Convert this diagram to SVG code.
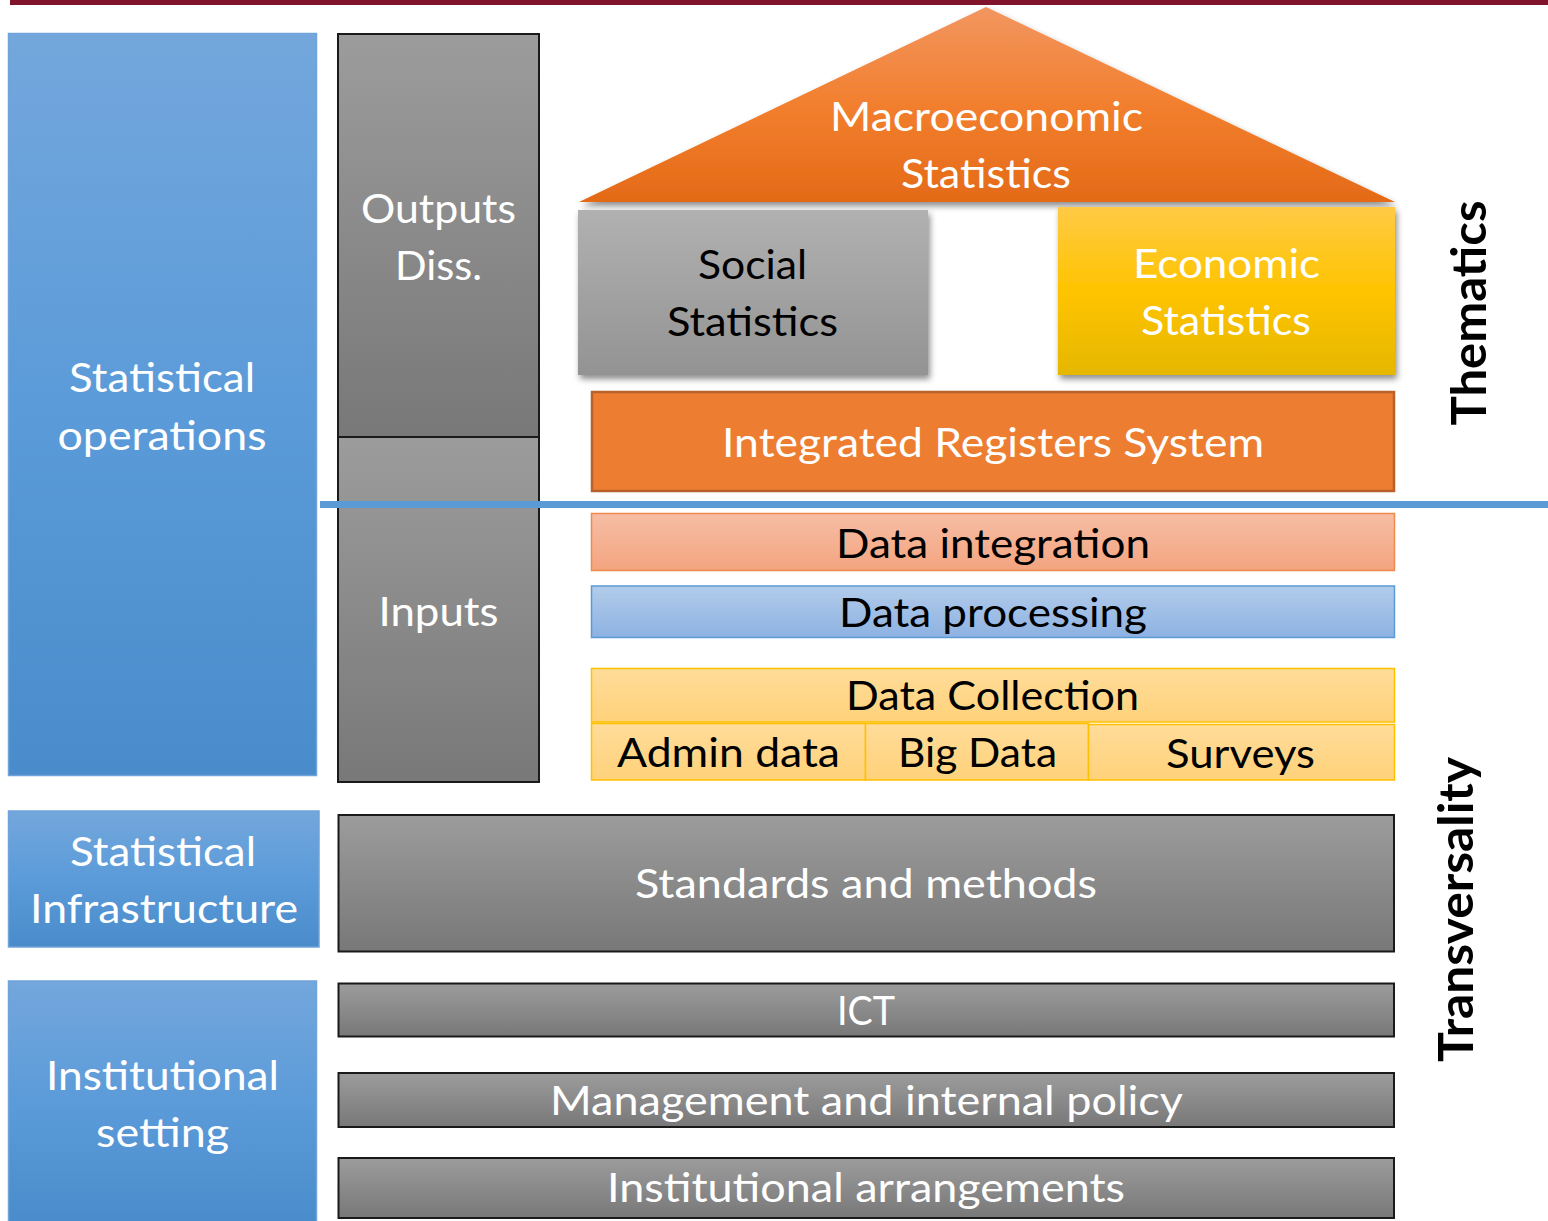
<svg xmlns="http://www.w3.org/2000/svg" width="1548" height="1221" viewBox="0 0 1548 1221">
<defs>
<linearGradient id="gBlue" x1="0" y1="0" x2="0" y2="1"><stop offset="0" stop-color="#73A7DC"/><stop offset="0.5" stop-color="#5B9BD9"/><stop offset="1" stop-color="#4A8BCB"/></linearGradient>
<linearGradient id="gGray" x1="0" y1="0" x2="0" y2="1"><stop offset="0" stop-color="#9C9C9C"/><stop offset="1" stop-color="#787878"/></linearGradient>
<linearGradient id="gSocial" x1="0" y1="0" x2="0" y2="1"><stop offset="0" stop-color="#B1B1B1"/><stop offset="1" stop-color="#939393"/></linearGradient>
<linearGradient id="gEcon" x1="0" y1="0" x2="0" y2="1"><stop offset="0" stop-color="#FFCA45"/><stop offset="0.5" stop-color="#FFC400"/><stop offset="1" stop-color="#E5B700"/></linearGradient>
<linearGradient id="gRoof" x1="0" y1="0" x2="0" y2="1"><stop offset="0" stop-color="#F29660"/><stop offset="0.5" stop-color="#F27F2E"/><stop offset="1" stop-color="#E46A17"/></linearGradient>
<linearGradient id="gInt" x1="0" y1="0" x2="0" y2="1"><stop offset="0" stop-color="#F6BEA5"/><stop offset="1" stop-color="#F4A47F"/></linearGradient>
<linearGradient id="gProc" x1="0" y1="0" x2="0" y2="1"><stop offset="0" stop-color="#B2CCEA"/><stop offset="1" stop-color="#8DB2E2"/></linearGradient>
<linearGradient id="gColl" x1="0" y1="0" x2="0" y2="1"><stop offset="0" stop-color="#FFDC9A"/><stop offset="1" stop-color="#FFD27A"/></linearGradient>
<filter id="shadow" x="-10%" y="-10%" width="125%" height="130%"><feDropShadow dx="2" dy="4" stdDeviation="3" flood-color="#000" flood-opacity="0.45"/></filter>
</defs>
<style>
text{font-family:Lato,"Open Sans","Liberation Sans",sans-serif;font-size:41px;text-anchor:middle;}
.w{fill:#FFFFFF;}
.k{fill:#000000;}
.b{font-weight:bold;font-size:48px;}
.blue{fill:url(#gBlue);stroke:#6FA3D9;stroke-width:1.5;}
.gray{fill:url(#gGray);stroke:#1A1A1A;stroke-width:2;}
</style>
<rect x="10" y="0" width="1538" height="5" fill="#80142C"/>

<g id="statistical-operations">
<rect class="blue" x="8.5" y="33.5" width="308" height="742"/>
<text class="w" x="162" y="392" textLength="186" lengthAdjust="spacingAndGlyphs">Statistical</text>
<text class="w" x="162" y="450" textLength="209" lengthAdjust="spacingAndGlyphs">operations</text>
</g>

<g id="outputs">
<rect class="gray" x="338" y="34" width="201" height="403"/>
<text class="w" x="438.5" y="223" textLength="155" lengthAdjust="spacingAndGlyphs">Outputs</text>
<text class="w" x="438.5" y="280" textLength="87" lengthAdjust="spacingAndGlyphs">Diss.</text>
</g>

<g id="inputs">
<rect class="gray" x="338" y="437" width="201" height="345"/>
<text class="w" x="438.5" y="626" textLength="120" lengthAdjust="spacingAndGlyphs">Inputs</text>
</g>

<g id="macroeconomic">
<polygon points="986,7 1395,202 579,202" fill="url(#gRoof)" filter="url(#shadow)"/>
<text class="w" x="986.5" y="131" textLength="313" lengthAdjust="spacingAndGlyphs">Macroeconomic</text>
<text class="w" x="986" y="188" textLength="170" lengthAdjust="spacingAndGlyphs">Statistics</text>
</g>

<g id="social">
<rect x="578" y="210" width="350" height="165" fill="url(#gSocial)" filter="url(#shadow)"/>
<text class="k" x="752.5" y="279" textLength="109" lengthAdjust="spacingAndGlyphs">Social</text>
<text class="k" x="752.5" y="336" textLength="171" lengthAdjust="spacingAndGlyphs">Statistics</text>
</g>

<g id="economic">
<rect x="1058" y="207" width="337" height="168" fill="url(#gEcon)" filter="url(#shadow)"/>
<text class="w" x="1226.5" y="278" textLength="187" lengthAdjust="spacingAndGlyphs">Economic</text>
<text class="w" x="1226" y="335" textLength="170" lengthAdjust="spacingAndGlyphs">Statistics</text>
</g>

<g id="registers">
<rect x="592" y="392" width="802" height="99" fill="#ED7D31" stroke="#B8612B" stroke-width="2.5"/>
<text class="w" x="993" y="457" textLength="542" lengthAdjust="spacingAndGlyphs">Integrated Registers System</text>
</g>

<g id="integration">
<rect x="591.5" y="513.5" width="803" height="57" fill="url(#gInt)" stroke="#F08A4B" stroke-width="1.5"/>
<text class="k" x="993" y="558" textLength="314" lengthAdjust="spacingAndGlyphs">Data integration</text>
</g>

<g id="processing">
<rect x="591.5" y="586" width="803" height="51.5" fill="url(#gProc)" stroke="#5B9BD5" stroke-width="1.5"/>
<text class="k" x="993" y="627" textLength="308" lengthAdjust="spacingAndGlyphs">Data processing</text>
</g>

<g id="collection">
<rect x="591.5" y="668.5" width="803" height="53.5" fill="url(#gColl)" stroke="#FFC000" stroke-width="1.5"/>
<text class="k" x="992.5" y="710" textLength="293" lengthAdjust="spacingAndGlyphs">Data Collection</text>
</g>

<g id="admin">
<rect x="591.5" y="723.5" width="274" height="56.5" fill="url(#gColl)" stroke="#FFC000" stroke-width="1.5"/>
<text class="k" x="728.5" y="767" textLength="223" lengthAdjust="spacingAndGlyphs">Admin data</text>
</g>

<g id="bigdata">
<rect x="865.5" y="723.5" width="223" height="56.5" fill="url(#gColl)" stroke="#FFC000" stroke-width="1.5"/>
<text class="k" x="977.5" y="767" textLength="159" lengthAdjust="spacingAndGlyphs">Big Data</text>
</g>

<g id="surveys">
<rect x="1088.5" y="724.5" width="306" height="55.5" fill="url(#gColl)" stroke="#FFC000" stroke-width="1.5"/>
<text class="k" x="1240.5" y="768" textLength="149" lengthAdjust="spacingAndGlyphs">Surveys</text>
</g>

<g id="statistical-infrastructure">
<rect class="blue" x="8.5" y="811" width="310.5" height="136"/>
<text class="w" x="163" y="866" textLength="186" lengthAdjust="spacingAndGlyphs">Statistical</text>
<text class="w" x="164" y="923" textLength="268" lengthAdjust="spacingAndGlyphs">Infrastructure</text>
</g>

<g id="standards">
<rect class="gray" x="338.5" y="815" width="1055.5" height="136.5"/>
<text class="w" x="866" y="898" textLength="462" lengthAdjust="spacingAndGlyphs">Standards and methods</text>
</g>

<g id="institutional-setting">
<rect class="blue" x="8.5" y="981" width="308" height="245"/>
<text class="w" x="162.5" y="1090" textLength="233" lengthAdjust="spacingAndGlyphs">Institutional</text>
<text class="w" x="162.5" y="1147" textLength="133" lengthAdjust="spacingAndGlyphs">setting</text>
</g>

<g id="ict">
<rect class="gray" x="338.5" y="983.5" width="1055.5" height="53"/>
<text class="w" x="866" y="1025" textLength="58" lengthAdjust="spacingAndGlyphs">ICT</text>
</g>

<g id="management">
<rect class="gray" x="338.5" y="1073" width="1055.5" height="54"/>
<text class="w" x="866.5" y="1115" textLength="633" lengthAdjust="spacingAndGlyphs">Management and internal policy</text>
</g>

<g id="arrangements">
<rect class="gray" x="338.5" y="1158" width="1055.5" height="60"/>
<text class="w" x="866" y="1202" textLength="518" lengthAdjust="spacingAndGlyphs">Institutional arrangements</text>
</g>

<g id="connectors">
<line x1="320" y1="504.5" x2="1548" y2="504.5" stroke="#5B9BD5" stroke-width="7"/>
</g>

<g id="thematics">
<text class="k b" transform="translate(1486,313) rotate(-90)" textLength="225" lengthAdjust="spacingAndGlyphs">Thematics</text>
</g>
<g id="transversality">
<text class="k b" transform="translate(1473,909.5) rotate(-90)" textLength="305" lengthAdjust="spacingAndGlyphs">Transversality</text>
</g>
</svg>
